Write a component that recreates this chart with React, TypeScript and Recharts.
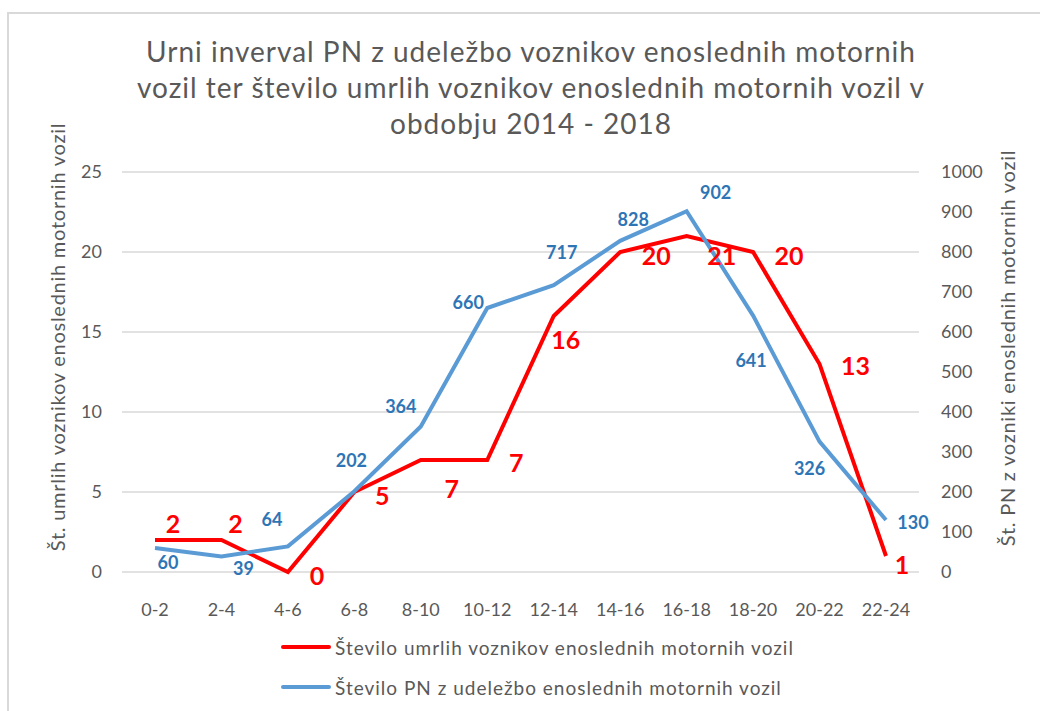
import { LineChart, Line, XAxis, YAxis, CartesianGrid } from 'recharts';

const hours = ['0-2', '2-4', '4-6', '6-8', '8-10', '10-12', '12-14', '14-16', '16-18', '18-20', '20-22', '22-24'];
const deaths = [2, 2, 0, 5, 7, 7, 16, 20, 21, 20, 13, 1];
const accidents = [60, 39, 64, 202, 364, 660, 717, 828, 902, 641, 326, 130];

const leftTicks = [0, 5, 10, 15, 20, 25];
const rightTicks = [0, 100, 200, 300, 400, 500, 600, 700, 800, 900, 1000];

// label offsets from the point (dx, dy)
const deathLabelOffsets = [
  [18, -17], [14, -17], [29, 3], [28, 3], [31, 28], [29, 2],
  [12, 23], [36, 3], [35, 19], [36, 3], [36, 1], [16, 8],
];
const accidentLabelOffsets = [
  [13, 14], [22, 12], [-16, -27], [-3, -31], [-20, -20], [-19, -6],
  [8, -33], [13, -22], [29, -19], [-2, 44], [-10, 26], [27, 2],
];

const data = hours.map((h, i) => ({ h, deaths: deaths[i], accidents: accidents[i] }));

const FONT = 'Lato, "Liberation Sans", sans-serif';
const GRAY = '#595959';
const RED = '#FF0000';
const BLUE = '#5B9BD5';
const BLUE_TEXT = '#2E75B6';

const makeLabel = (offsets: number[][], color: string, size: number) => (props: any) => {
  const { x, y, value, index } = props;
  const [dx, dy] = offsets[index] || [0, 0];
  return (
    <text
      x={x + dx}
      y={y + dy}
      fill={color}
      fontSize={size}
      fontWeight={700}
      fontFamily={FONT}
      textAnchor="middle"
      dominantBaseline="central"
    >
      {value}
    </text>
  );
};

const tickStyle = { fill: GRAY, fontSize: 18, fontFamily: FONT };

const axisTitle = (text: string, left: number, top: number) => (
  <div style={{ position: 'absolute', left, top, width: 0, height: 0 }}>
    <div style={{
      position: 'absolute', transform: 'translate(-50%, -50%) rotate(-90deg)', whiteSpace: 'nowrap',
      fontFamily: FONT, fontSize: 20, letterSpacing: 0.75, color: GRAY,
    }}>
      {text}
    </div>
  </div>
);

export default function App() {
  return (
    <div style={{ position: 'absolute', left: 0, top: 0, width: 1040, height: 711, background: '#fff', overflow: 'hidden' }}>
      <div style={{
        position: 'absolute', left: 7, top: 12, width: 1100, height: 800,
        borderTop: '2px solid #d9d9d9', borderLeft: '2px solid #d9d9d9',
      }} />
      <div style={{
        position: 'absolute', left: 0, top: 33, width: 1062, textAlign: 'center',
        fontFamily: FONT, fontSize: 28, letterSpacing: 1, lineHeight: '36px', color: GRAY,
      }}>
        Urni inverval PN z udeležbo voznikov enoslednih motornih<br />
        vozil ter število umrlih voznikov enoslednih motornih vozil v<br />
        obdobju 2014 - 2018
      </div>
      {axisTitle('Št. umrlih voznikov enoslednih motornih vozil', 57, 337)}
      {axisTitle('Št. PN z vozniki enoslednih motornih vozil', 1007, 348)}
      <div style={{ position: 'absolute', left: 0, top: 0 }}>
        <LineChart
          width={1040}
          height={711}
          data={data}
          margin={{ top: 172, right: 0, bottom: 99, left: 0 }}
        >
          <CartesianGrid yAxisId="left" vertical={false} stroke="#d9d9d9" strokeWidth={1.5} />
          <XAxis
            dataKey="h"
            axisLine={false}
            tickLine={false}
            tickSize={0}
            tickMargin={31}
            height={40}
            tick={tickStyle}
            interval={0}
            padding={{ left: 33, right: 33 }}
          />
          <YAxis
            yAxisId="left"
            domain={[0, 25]}
            ticks={leftTicks}
            axisLine={false}
            tickLine={false}
            tickSize={0}
            tickMargin={20}
            width={122}
            tick={tickStyle}
          />
          <YAxis
            yAxisId="right"
            orientation="right"
            domain={[0, 1000]}
            ticks={rightTicks}
            axisLine={false}
            tickLine={false}
            tickSize={0}
            tickMargin={22}
            width={121}
            tick={tickStyle}
          />
          <Line
            yAxisId="left"
            dataKey="deaths"
            stroke={RED}
            strokeWidth={4}
            dot={false}
            type="linear"
            isAnimationActive={false}
            label={makeLabel(deathLabelOffsets, RED, 25)}
          />
          <Line
            yAxisId="right"
            dataKey="accidents"
            stroke={BLUE}
            strokeWidth={4}
            dot={false}
            type="linear"
            isAnimationActive={false}
            label={makeLabel(accidentLabelOffsets, BLUE_TEXT, 18)}
          />
        </LineChart>
      </div>
      <div style={{ position: 'absolute', left: 281, top: 627, fontFamily: FONT, fontSize: 19, letterSpacing: 1, color: GRAY }}>
        {[
          { name: 'Število umrlih voznikov enoslednih motornih vozil', color: RED },
          { name: 'Število PN z udeležbo enoslednih motornih vozil', color: BLUE },
        ].map((item) => (
          <div key={item.name} style={{ display: 'flex', alignItems: 'center', height: 40 }}>
            <span style={{ display: 'inline-block', width: 50, height: 4, background: item.color, borderRadius: 2, marginRight: 4 }} />
            <span>{item.name}</span>
          </div>
        ))}
      </div>
    </div>
  );
}
